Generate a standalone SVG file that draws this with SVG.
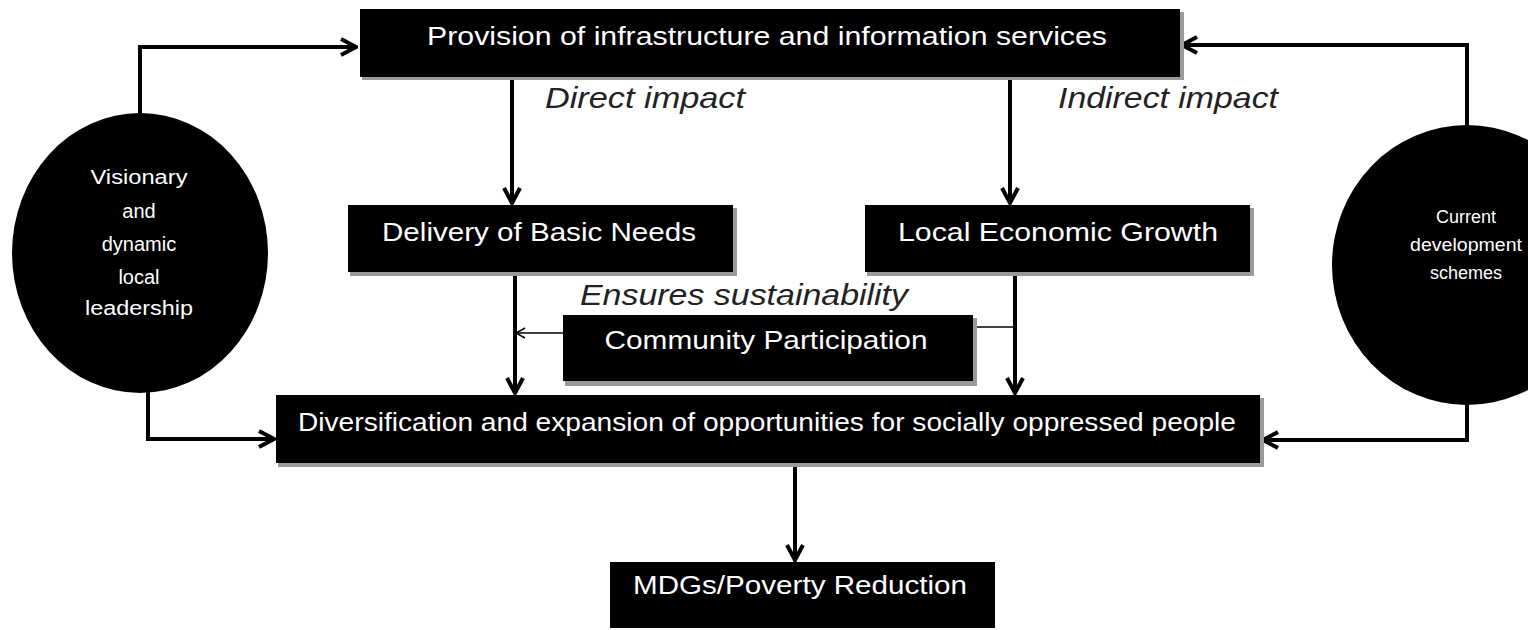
<svg xmlns="http://www.w3.org/2000/svg" width="1528" height="630" viewBox="0 0 1528 630">
<defs>
<marker id="ah" viewBox="0 0 20 20" refX="18" refY="10" markerWidth="20" markerHeight="20" markerUnits="userSpaceOnUse" orient="auto">
<path d="M3,2 L18,10 L3,18" fill="none" stroke="#000" stroke-width="4"/>
</marker>
<marker id="ahs" viewBox="0 0 12 12" refX="11" refY="6" markerWidth="12" markerHeight="12" markerUnits="userSpaceOnUse" orient="auto">
<path d="M2,1 L11,6 L2,11" fill="none" stroke="#000" stroke-width="1.5"/>
</marker>
</defs>
<style>
.box{fill:#000}
.sh{fill:#9a9a9a}
.t{fill:#fff;font-family:"Liberation Sans",Arial,sans-serif;font-size:25px;text-anchor:middle}
.ts{fill:#fff;font-family:"Liberation Sans",Arial,sans-serif;font-size:20px;text-anchor:middle}
.tx{fill:#fff;font-family:"Liberation Sans",Arial,sans-serif;font-size:18px;text-anchor:middle}
.lab{fill:#222;font-family:"Liberation Sans",Arial,sans-serif;font-size:30px;font-style:italic;text-anchor:middle}
.c{fill:none;stroke:#000;stroke-width:4}
.thin{fill:none;stroke:#000;stroke-width:1.5}
</style>
<rect width="1528" height="630" fill="#fff"/>
<g id="connectors">
<polyline class="c" points="140,113 140,47 356,47" marker-end="url(#ah)"/>
<polyline class="c" points="148,392 148,439 274,439" marker-end="url(#ah)"/>
<polyline class="c" points="1467,126 1467,45 1182,45" marker-end="url(#ah)"/>
<polyline class="c" points="1467,404 1467,440 1263,440" marker-end="url(#ah)"/>
<line class="c" x1="512" y1="77" x2="512" y2="203" marker-end="url(#ah)"/>
<line class="c" x1="1010" y1="77" x2="1010" y2="203" marker-end="url(#ah)"/>
<line class="c" x1="515" y1="272" x2="515" y2="393" marker-end="url(#ah)"/>
<line class="c" x1="1015" y1="272" x2="1015" y2="393" marker-end="url(#ah)"/>
<line class="thin" x1="563" y1="333" x2="516" y2="333" marker-end="url(#ahs)"/>
<line class="thin" x1="973" y1="327" x2="1015" y2="327"/>
<line class="c" x1="795" y1="463" x2="795" y2="560" marker-end="url(#ah)"/>
</g>
<g id="labels">
<text class="lab" x="645" y="108" textLength="200" lengthAdjust="spacingAndGlyphs">Direct impact</text>
<text class="lab" x="1168" y="108" textLength="220" lengthAdjust="spacingAndGlyphs">Indirect impact</text>
<text class="lab" x="744" y="305" textLength="328" lengthAdjust="spacingAndGlyphs">Ensures sustainability</text>
</g>
<g id="n-provision">
<rect class="sh" x="362" y="12" width="822" height="68"/>
<rect class="box" x="360" y="9" width="820" height="68"/>
<text class="t" x="767" y="45" textLength="680" lengthAdjust="spacingAndGlyphs">Provision of infrastructure and information services</text>
</g>
<g id="n-basic">
<rect class="sh" x="350" y="208" width="387" height="68"/>
<rect class="box" x="348" y="205" width="385" height="67"/>
<text class="t" x="539" y="241" textLength="314" lengthAdjust="spacingAndGlyphs">Delivery of Basic Needs</text>
</g>
<g id="n-growth">
<rect class="sh" x="867" y="208" width="387" height="68"/>
<rect class="box" x="865" y="205" width="385" height="67"/>
<text class="t" x="1058" y="241" textLength="320" lengthAdjust="spacingAndGlyphs">Local Economic Growth</text>
</g>
<g id="n-community">
<rect class="sh" x="565" y="318" width="412" height="68"/>
<rect class="box" x="563" y="315" width="410" height="66"/>
<text class="t" x="766" y="349" textLength="323" lengthAdjust="spacingAndGlyphs">Community Participation</text>
</g>
<g id="n-diversification">
<rect class="sh" x="278" y="398" width="986" height="69"/>
<rect class="box" x="276" y="395" width="984" height="68"/>
<text class="t" x="767" y="431" textLength="938" lengthAdjust="spacingAndGlyphs">Diversification and expansion of opportunities for socially oppressed people</text>
</g>
<g id="n-mdgs">
<rect class="box" x="610" y="562" width="385" height="66"/>
<text class="t" x="800" y="594" textLength="334" lengthAdjust="spacingAndGlyphs">MDGs/Poverty Reduction</text>
</g>
<g id="n-leadership">
<ellipse class="box" cx="140" cy="253" rx="128" ry="140"/>
<text class="ts" x="139" y="184" textLength="97" lengthAdjust="spacingAndGlyphs">Visionary</text>
<text class="ts" x="139" y="218">and</text>
<text class="ts" x="139" y="251">dynamic</text>
<text class="ts" x="139" y="284">local</text>
<text class="ts" x="139" y="315" textLength="108" lengthAdjust="spacingAndGlyphs">leadership</text>
</g>
<g id="n-schemes">
<ellipse class="box" cx="1467" cy="265" rx="135" ry="140"/>
<text class="tx" x="1466" y="223">Current</text>
<text class="tx" x="1466" y="251" textLength="112" lengthAdjust="spacingAndGlyphs">development</text>
<text class="tx" x="1466" y="279">schemes</text>
</g>
</svg>
